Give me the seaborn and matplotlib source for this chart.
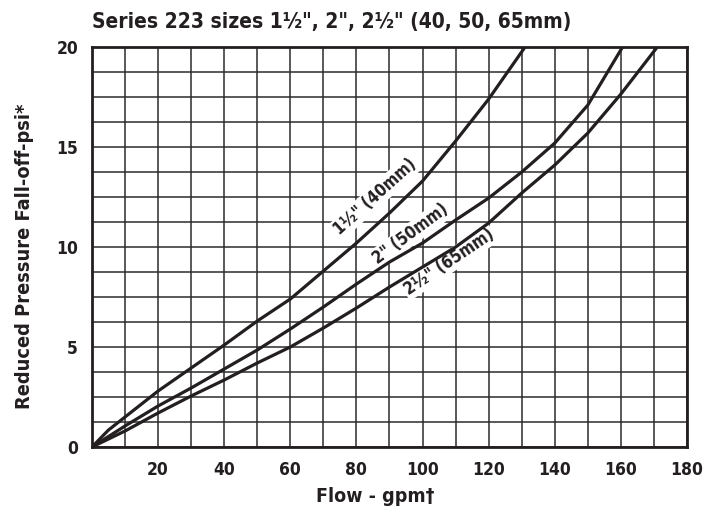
import matplotlib
matplotlib.use("Agg")
import matplotlib.pyplot as plt
import numpy as np
import seaborn as sns

INK = "#231f20"
GRIDC = "#2b2b2b"

# 1-1/2" (40mm)
flow_40 = [0, 5, 10, 20, 30, 40, 50, 60, 70, 80, 90, 100, 110, 120, 131]
psi_40 = [0, 0.85, 1.5, 2.8, 3.95, 5.1, 6.3, 7.4, 8.8, 10.2, 11.7, 13.3, 15.3, 17.4, 20]

# 2" (50mm)
flow_50 = [0, 10, 20, 30, 40, 50, 60, 70, 80, 90, 100, 110, 120, 130, 140, 150, 160.5]
psi_50 = [0, 1.05, 2.05, 2.95, 3.9, 4.85, 5.9, 7.0, 8.15, 9.25, 10.2, 11.35, 12.45, 13.75, 15.2, 17.1, 20]

# 2-1/2" (65mm)
flow_65 = [0, 10, 20, 30, 40, 50, 60, 70, 80, 90, 100, 110, 120, 130, 140, 150, 160, 171]
psi_65 = [0, 0.8, 1.7, 2.55, 3.35, 4.2, 5.0, 5.95, 6.95, 8.0, 9.0, 10.0, 11.2, 12.7, 14.1, 15.7, 17.65, 20]

labels = ['1\u00bd" (40mm)', '2" (50mm)', '2\u00bd" (65mm)']
label_pos = [(85.6, 12.5, 42), (96.5, 10.65, 36.5), (108, 9.25, 34)]

x_ticks = [20, 40, 60, 80, 100, 120, 140, 160, 180]
y_ticks = [0, 5, 10, 15, 20]

sns.set_style("white")
plt.rcParams["font.family"] = ["DejaVu Sans"]
plt.rcParams["font.stretch"] = "condensed"

fig = plt.figure(figsize=(7.11, 5.12), dpi=100)
ax = fig.add_axes([0.1294, 0.127, 0.8368, 0.781])

for xs, ys in [(flow_40, psi_40), (flow_50, psi_50), (flow_65, psi_65)]:
    sns.lineplot(x=xs, y=ys, ax=ax, color=INK, linewidth=2.3, sort=False,
                 estimator=None, zorder=3)

for text, (gx, gy, rot) in zip(labels, label_pos):
    ax.text(gx, gy, text, rotation=rot, rotation_mode="anchor", ha="center", va="center",
            fontsize=12, fontweight="bold", color=INK, zorder=2,
            bbox=dict(boxstyle="square,pad=0.1", fc="white", ec="none"))

ax.set_xlim(0, 180)
ax.set_ylim(0, 20)
ax.set_xticks(x_ticks)
ax.set_xticks(np.arange(0, 181, 10), minor=True)
ax.set_yticks(y_ticks)
ax.set_yticks(np.arange(0, 20.01, 1.25), minor=True)
ax.set_axisbelow(True)
ax.grid(True, which="both", color=GRIDC, linewidth=1.1)
ax.tick_params(which="both", length=0, labelsize=12.5, colors=INK, pad=10)
for lab in ax.get_xticklabels() + ax.get_yticklabels():
    lab.set_fontweight("bold")
for spine in ax.spines.values():
    spine.set_color(INK)
    spine.set_linewidth(2)
    spine.set_visible(True)

ax.set_xlabel("Flow - gpm\u2020", fontsize=14, fontweight="bold", color=INK)
ax.xaxis.set_label_coords(0.476, -0.1)
ax.set_ylabel("Reduced Pressure Fall-off-psi*", fontsize=14.3, fontweight="bold", color=INK)
ax.yaxis.set_label_coords(-0.097, 0.478)
fig.text(0.1294, 0.957, 'Series 223 sizes 1\u00bd", 2", 2\u00bd" (40, 50, 65mm)',
         fontsize=15, fontweight="bold", color=INK, ha="left", va="center")

fig.savefig("out.png", dpi=100, facecolor="white")
